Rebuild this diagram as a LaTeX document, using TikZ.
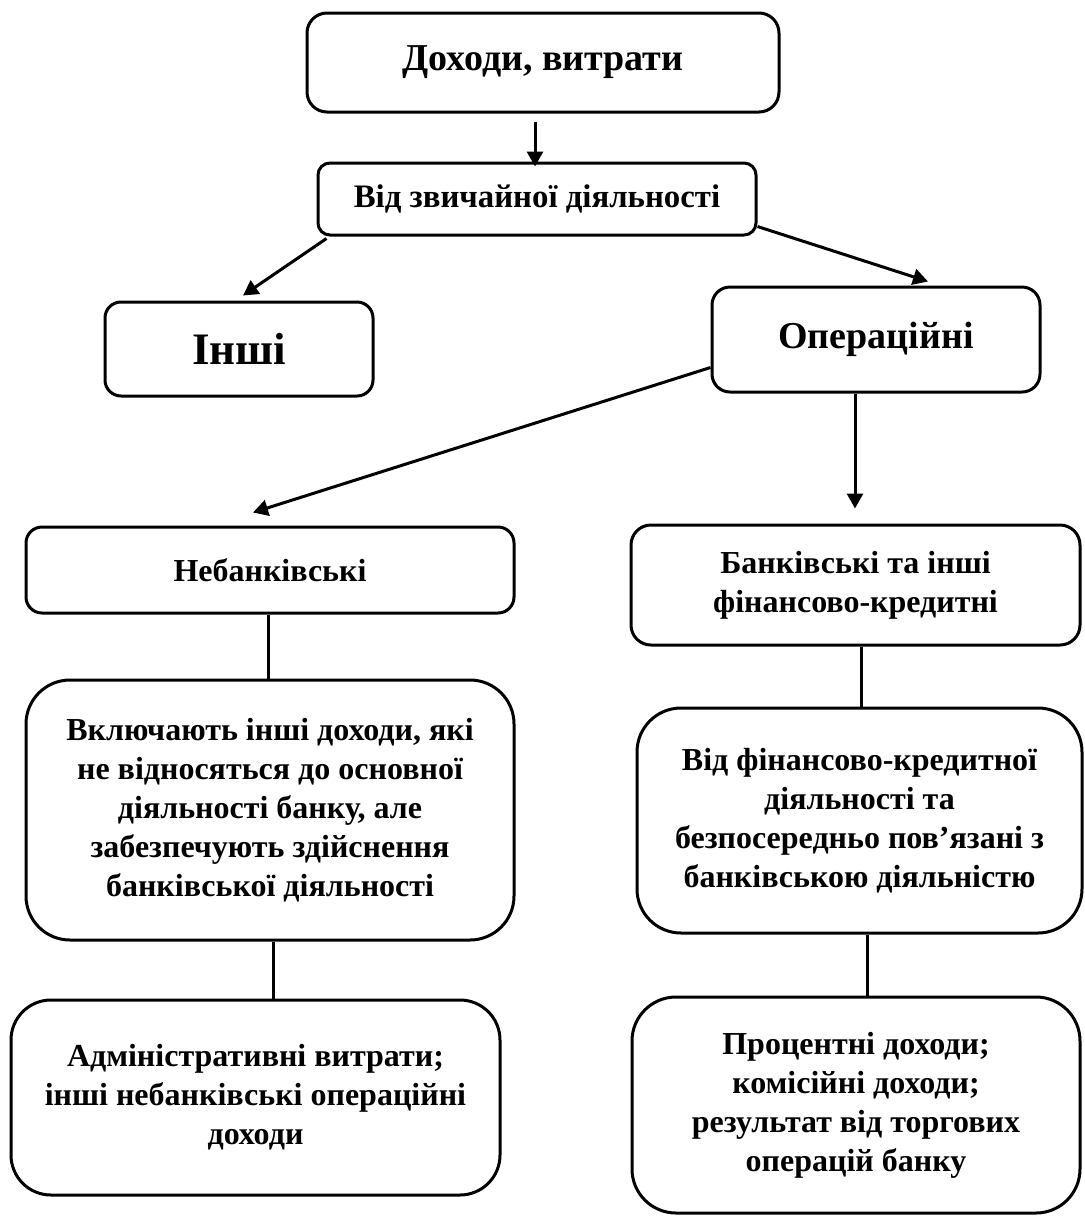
\documentclass[tikz,border=0pt]{standalone}
\usepackage{fontspec}
\setmainfont{Liberation Serif}
\usetikzlibrary{calc}
\usetikzlibrary{arrows.meta}

\begin{document}
\begin{tikzpicture}[x=0.5pt,y=-0.5pt,
	box/.style={draw, line width=1.5pt, align=center, inner sep=0pt, font=\bfseries\fontsize{16}{19.5}\selectfont},
	arr/.style={-{Triangle[length=7.5pt,width=8pt]}, line width=1.5pt},
	link/.style={line width=1.5pt}]
	\useasboundingbox (0,0) rectangle (1084,1217);
	\node[box, rounded corners=10pt, minimum width=236pt, minimum height=49.5pt, font=\bfseries\fontsize{19}{23}\selectfont] (top) at (543,62.5) {Доходи, витрати};
	\node[box, rounded corners=6pt, minimum width=219pt, minimum height=36pt, font=\bfseries\fontsize{16.4}{19.5}\selectfont] (zv) at (537,199) {Від звичайної діяльності};
	\node[box, rounded corners=8pt, minimum width=134pt, minimum height=47pt, font=\bfseries\fontsize{22.5}{26}\selectfont] (inshi) at (239,349) {Інші};
	\node[box, rounded corners=9pt, minimum width=164pt, minimum height=52.5pt, font=\bfseries\fontsize{19}{23}\selectfont] (oper) at (876,339.5) {Операційні};
	\node[box, rounded corners=8pt, minimum width=244pt, minimum height=43pt] (neb) at (270,570) {Небанківські};
	\node[box, rounded corners=10pt, minimum width=224.5pt, minimum height=60pt] (bank) at (855.5,585) {Банківські та інші\\фінансово-кредитні};
	\node[box, rounded corners=22pt, minimum width=244pt, minimum height=130pt] (vkl) at (270,810) {Включають інші доходи, які\\не відносяться до основної\\діяльності банку, але\\забезпечують здійснення\\банківської діяльності};
	\node[box, rounded corners=22pt, minimum width=222.5pt, minimum height=112.5pt] (vidfin) at (859.5,820.5) {Від фінансово-кредитної\\діяльності та\\безпосередньо пов’язані з\\банківською діяльністю};
	\node[box, rounded corners=20pt, minimum width=244.5pt, minimum height=97.5pt] (adm) at (255.5,1097.5) {Адміністративні витрати;\\інші небанківські операційні\\доходи};
	\node[box, rounded corners=22pt, minimum width=224pt, minimum height=108pt] (proc) at (856,1105) {Процентні доходи;\\комісійні доходи;\\результат від торгових\\операцій банку};
	\draw[arr] ([xshift=-4pt,yshift=-4pt]top.south) -- ([xshift=-1pt,yshift=-2.5pt]zv.north); % top -> zv
	\draw[arr] ([xshift=5pt,yshift=-1pt]zv.south west) -- ([xshift=2pt,yshift=2.5pt]inshi.north);
	\draw[arr] ([yshift=5pt]zv.south east) -- ([xshift=26pt,yshift=2pt]oper.north);
	\draw[arr] ([yshift=-14pt]oper.west) -- ([xshift=-8.5pt,yshift=6.5pt]neb.north);
	\draw[arr] ([xshift=-10.5pt]oper.south) -- ([xshift=-10.5pt,yshift=7.5pt]oper.south |- bank.north);
	\draw[link] ([xshift=-1pt]neb.south) -- ([xshift=-1pt]neb.south |- vkl.north); % left column
	\draw[link] ([xshift=1.5pt]vkl.south) -- ([xshift=1.5pt]vkl.south |- adm.north);
	\draw[link] ([xshift=3pt]bank.south) -- ([xshift=3pt]bank.south |- vidfin.north); % right column
	\draw[link] ([xshift=4pt]vidfin.south) -- ([xshift=4pt]vidfin.south |- proc.north);
\end{tikzpicture}
\end{document}
